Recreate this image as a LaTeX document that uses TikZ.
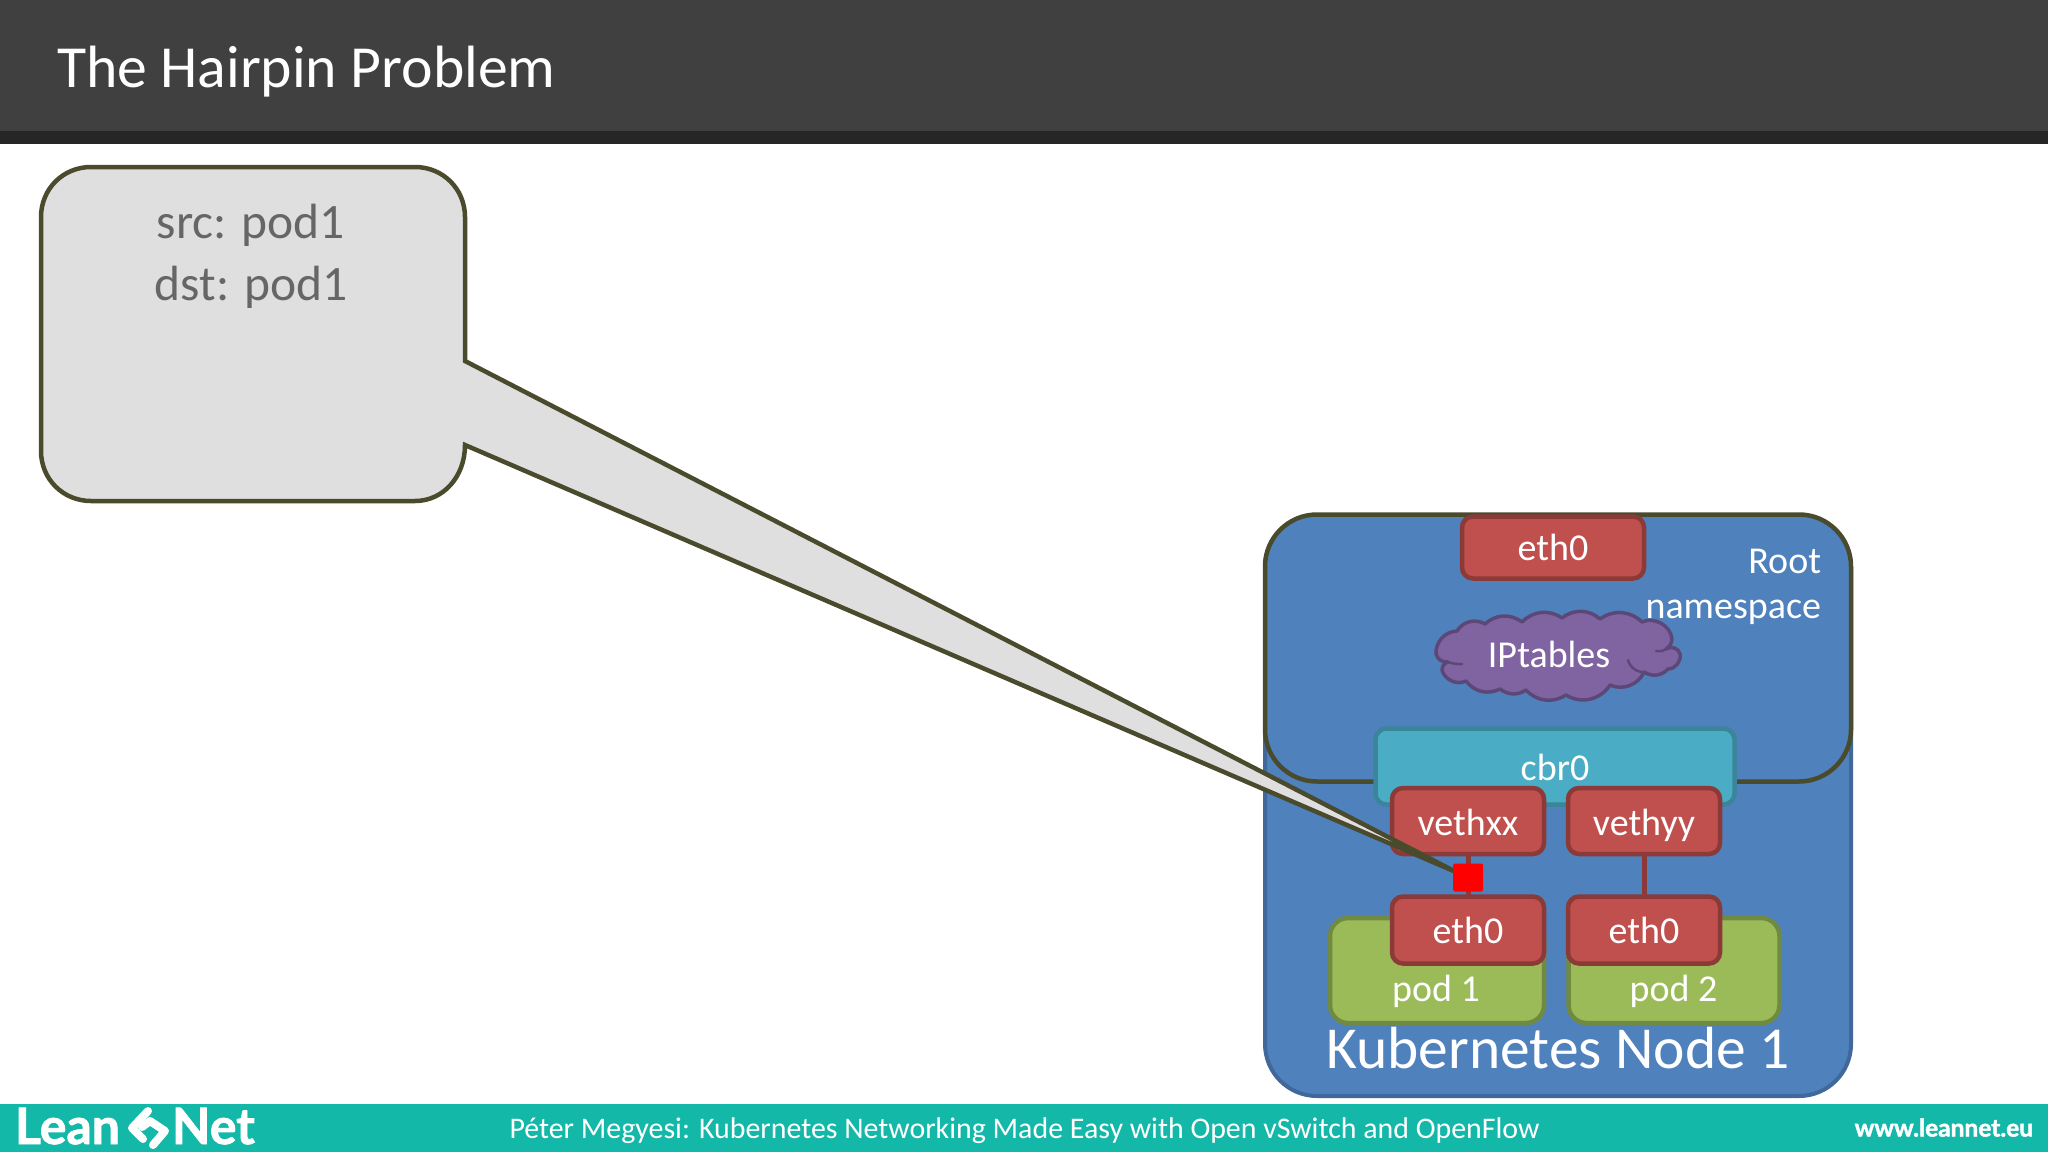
\documentclass[tikz,border=0pt]{standalone}
\usepackage{fontspec}
\setmainfont{Carlito}
\newfontfamily\logofont[BoldFeatures={FakeBold=1.6}]{Lato}
\definecolor{hdr}{HTML}{404040}
\definecolor{hdrdark}{HTML}{262626}
\definecolor{teal}{HTML}{14B8A8}
\definecolor{olive}{HTML}{4A4A2C}
\definecolor{callfill}{HTML}{E0DFE0}
\definecolor{calltext}{HTML}{666666}
\definecolor{nodeblue}{HTML}{4F81BD}
\definecolor{nodeedge}{HTML}{41689A}
\definecolor{redfill}{HTML}{C0504D}
\definecolor{rededge}{HTML}{8C3A38}
\definecolor{cyanfill}{HTML}{4BACC6}
\definecolor{cyanedge}{HTML}{3A8599}
\definecolor{greenfill}{HTML}{9BBB59}
\definecolor{greenedge}{HTML}{718A42}
\definecolor{purplefill}{HTML}{8064A2}
\definecolor{purpleedge}{HTML}{5C4877}
\newcommand{\fsz}[1]{\fontsize{#1}{#1}\selectfont}
\tikzset{
  base/.style={inner sep=0pt,outer sep=0pt,anchor=center},
  panel/.style={base,draw=nodeedge,fill=nodeblue,line width=4pt,rounded corners=52pt},
  rootns/.style={base,draw=olive,fill=nodeblue,line width=4.5pt,rounded corners=52pt},
  redbox/.style={base,draw=rededge,fill=redfill,line width=4.5pt,rounded corners=11pt},
  cyanbox/.style={base,draw=cyanedge,fill=cyanfill,line width=4.5pt,rounded corners=11pt},
  greenbox/.style={base,draw=greenedge,fill=greenfill,line width=4.5pt,rounded corners=18pt},
  wtxt/.style={inner sep=0pt,outer sep=0pt,anchor=base,text=white},
  link/.style={draw=rededge,line width=5pt},
  calltxt/.style={inner sep=0pt,outer sep=0pt,anchor=base,text=calltext,font=\fsz{49.5}},
}
\begin{document}
\begin{tikzpicture}[x=1pt,y=-1pt]
\useasboundingbox (0,0) rectangle (2048,1152);
\fill[white] (0,0) rectangle (2048,1152);
% header
\fill[hdr] (0,0) rectangle (2048,131);
\fill[hdrdark] (0,131) rectangle (2048,143.5);
\node[wtxt,anchor=base west,font=\fsz{59.7}] (title) at (57,87) {The Hairpin Problem};
% footer
\fill[teal] (0,1104) rectangle (2048,1152);
\node[wtxt,anchor=base west,font=\logofont\bfseries\fsz{50}] (lean) at (15,1144) {Lean};
\node[wtxt,anchor=base west,font=\logofont\bfseries\fsz{50}] (net) at (172,1144) {Net};
\draw[white,line width=8pt,line join=round,line cap=round] (148,1111) -- (132,1128) -- (143,1139);
\draw[white,line width=8pt,line join=round,line cap=round] (142,1127) -- (150,1121) -- (165,1131) -- (153,1145);
\node[wtxt,font=\fsz{29.9}] (foot) at (1024.5,1138) {Péter Megyesi: Kubernetes Networking Made Easy with Open vSwitch and OpenFlow};
\node[wtxt,anchor=base east,font=\logofont\bfseries\fsz{24.5}] (web) at (2033,1136.5) {www.leannet.eu};
% kubernetes node
\node[panel,minimum width=586pt,minimum height=581pt] (k8s) at (1558,805.5) {};
\node[rootns,minimum width=586pt,minimum height=267pt] (root) at (1558,648) {};
\node[redbox,minimum width=182pt,minimum height=62pt] (etht) at (1553,547.5) {};
\node[wtxt,font=\fsz{38}] (ethttxt) at (1553,560.5) {eth0};
\node[wtxt,anchor=base east,font=\fsz{38}] (roottxt) at (1821,573) {Root};
\node[wtxt,anchor=base east,font=\fsz{38}] (nstxt) at (1821,618) {namespace};
% cloud
\draw[draw=purpleedge,fill=purplefill,line width=3.5pt,line join=round]
  (1436,654) to[bend left=45] (1457,631) to[bend left=45] (1485,624)
  to[bend left=40] (1522,622) to[bend left=40] (1562,618) to[bend left=40] (1600,619)
  to[bend left=40] (1642,622) to[bend left=55] (1672,639) to[bend left=25] (1666,649)
  to[bend left=60] (1680,654) to[bend left=50] (1668,669) to[bend left=40] (1644,672)
  to[bend left=45] (1610,685) to[bend left=45] (1566,695) to[bend left=40] (1526,690)
  to[bend left=35] (1500,689) to[bend left=40] (1466,681) to[bend left=50] (1442,670)
  to[bend left=35] (1448,662) to[bend left=40] cycle;
\draw[purpleedge,line width=2.5pt,line cap=round]
  (1448,662) to[bend right=10] (1462,664)
  (1646,672) to[bend left=40] (1628,660)
  (1666,649) to[bend left=20] (1656,651);
\node[wtxt,font=\fsz{38}] (ipt) at (1549,667) {IPtables};
% bridge
\node[cyanbox,minimum width=359pt,minimum height=76pt] (cbr) at (1555,766.5) {};
\node[wtxt,font=\fsz{38}] (cbrtxt) at (1555,780) {cbr0};
% pods
\node[greenbox,minimum width=214pt,minimum height=105pt] (pod1) at (1437,970.5) {};
\node[greenbox,minimum width=211pt,minimum height=105pt] (pod2) at (1674,970.5) {};
\node[wtxt,font=\fsz{38}] (pod1txt) at (1436,1001) {pod 1};
\node[wtxt,font=\fsz{38}] (pod2txt) at (1673.5,1001) {pod 2};
% veths
\node[redbox,minimum width=152pt,minimum height=66pt] (vx) at (1468,821) {};
\node[redbox,minimum width=152pt,minimum height=66pt] (vy) at (1644,821) {};
\node[redbox,minimum width=152pt,minimum height=67pt] (e1) at (1468,930) {};
\node[redbox,minimum width=152pt,minimum height=67pt] (e2) at (1644,930) {};
\draw[link] (vx) -- (e1);
\draw[link] (vy) -- (e2);
\node[wtxt,font=\fsz{38}] (vxtxt) at (1468,835) {vethxx};
\node[wtxt,font=\fsz{38}] (vytxt) at (1644,835) {vethyy};
\node[wtxt,font=\fsz{38}] (e1txt) at (1468,943) {eth0};
\node[wtxt,font=\fsz{38}] (e2txt) at (1644,943) {eth0};
\node[wtxt,font=\fsz{59.5}] (k8stxt) at (1558,1068) {Kubernetes Node 1};
% callout
\draw[draw=olive,fill=callfill,line width=4.5pt,line join=miter]
  (91,167) -- (415,167)
  .. controls (443,167) and (465,189) .. (465,217)
  -- (465,361) -- (1456,872) -- (465,445)
  .. controls (465,477) and (443,501) .. (415,501)
  -- (91,501)
  .. controls (63,501) and (41,479) .. (41,451)
  -- (41,217)
  .. controls (41,189) and (63,167) .. (91,167) -- cycle;
\node[calltxt] (src) at (251,238) {src: pod1};
\node[calltxt] (dst) at (251,300) {dst: pod1};
% marker
\node[base,fill=red,rounded corners=1.5pt,minimum width=30pt,minimum height=28pt] (mark) at (1468,877.5) {};
\end{tikzpicture}
\end{document}
